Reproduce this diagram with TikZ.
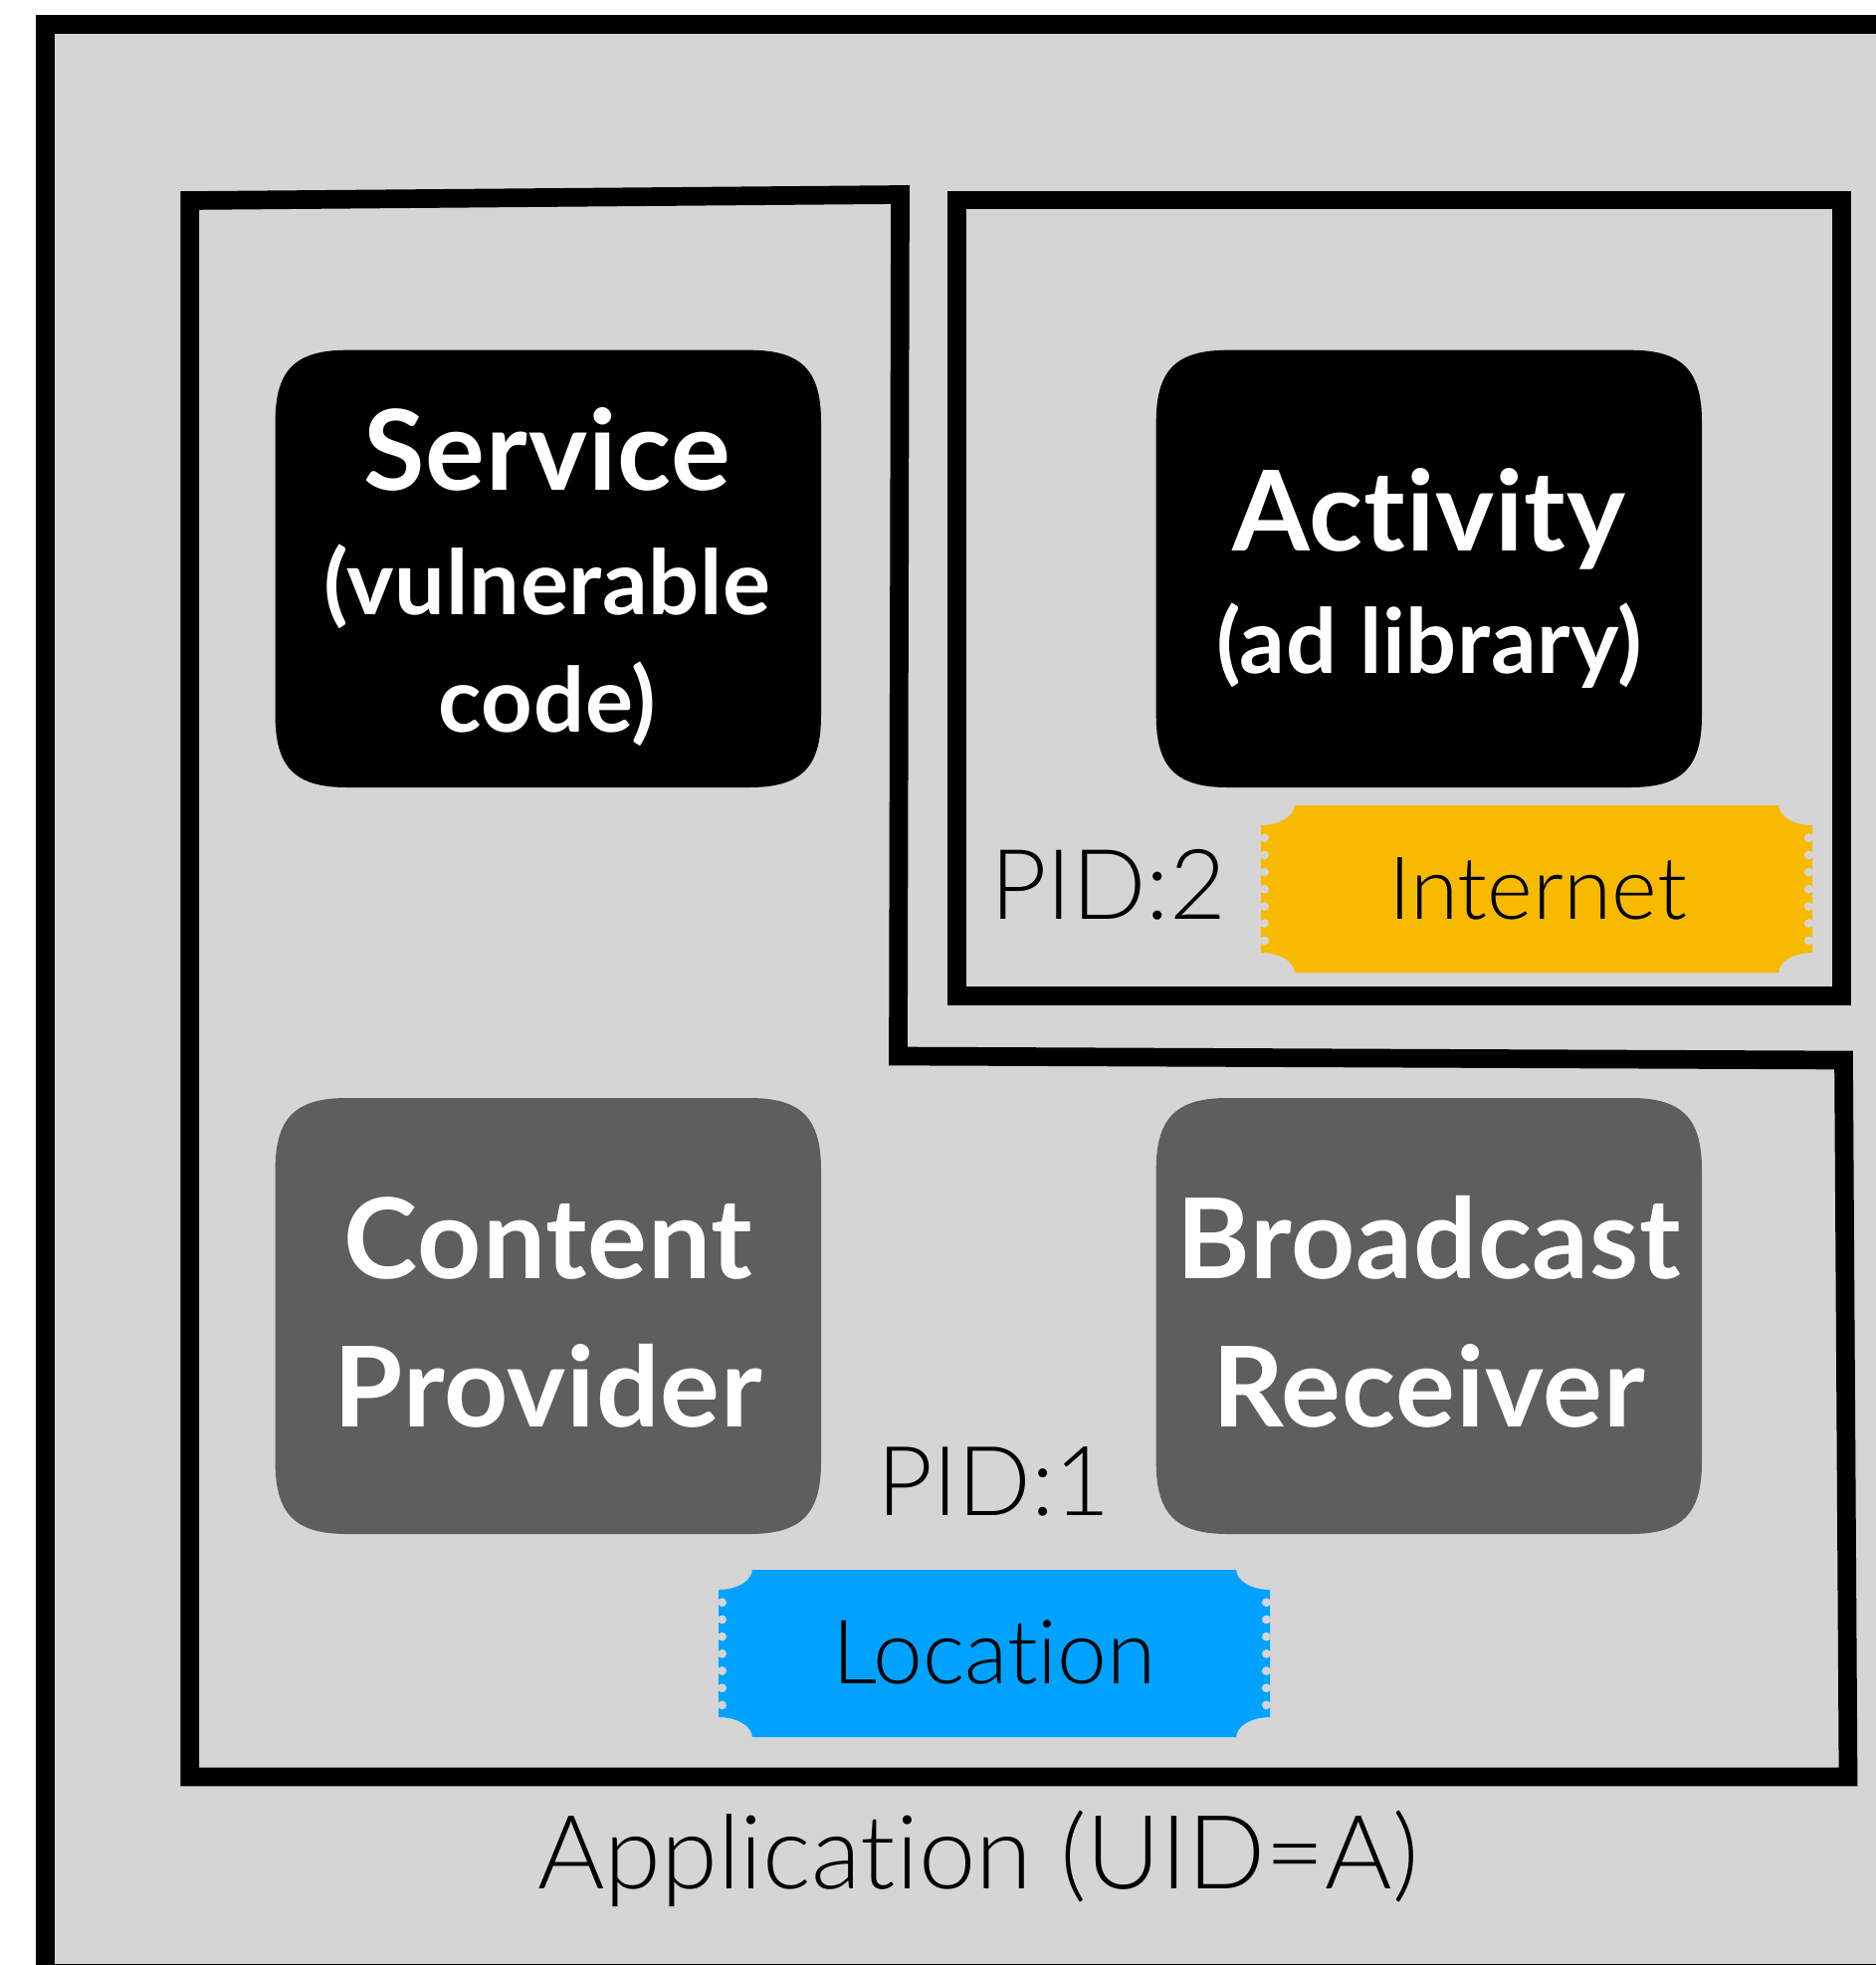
\documentclass[tikz,border=0pt]{standalone}
\usepackage{fontspec}
\setmainfont{Lato}
\newfontfamily\lightface[Ligatures={NoCommon}]{Lato Light}
\newfontfamily\boldface[Ligatures={NoCommon},LetterSpace=0.8]{Lato Bold}
\definecolor{panel}{HTML}{D5D5D5}
\definecolor{darkbox}{HTML}{5E5E5E}
\definecolor{ticketyellow}{HTML}{F8BA00}
\definecolor{ticketblue}{HTML}{00A2FF}
\newcommand{\bigline}{\fontsize{112}{100}\selectfont}
\newcommand{\smallline}{\fontsize{90}{100}\selectfont}
\tikzset{
  frameline/.style={draw=black,line width=18.7pt,miter limit=10},
  boxtitle/.style={text=white,align=center,inner sep=0pt,anchor=base,font=\boldface\fontsize{90}{100}\selectfont},
  thintext/.style={text=black,inner sep=0pt,anchor=base west,font=\lightface},
}
\newcommand{\SqBox}[5]{% x1 y1 x2 y2 colour
  \fill[#5] (#1,#2+72) .. controls (#1,#2+20) and (#1+20,#2) .. (#1+72,#2)
    -- (#3-72,#2) .. controls (#3-20,#2) and (#3,#2+20) .. (#3,#2+72)
    -- (#3,#4-72) .. controls (#3,#4-20) and (#3-20,#4) .. (#3-72,#4)
    -- (#1+72,#4) .. controls (#1+20,#4) and (#1,#4-20) .. (#1,#4-72) -- cycle;}
\newcommand{\Ticket}[3]{% x y colour
  \fill[#3] (#1+33.8,#2) -- (#1+520.2,#2)
    .. controls (#1+520.2,#2+11) and (#1+535.4,#2+20) .. (#1+554,#2+20)
    -- (#1+554,#2+148)
    .. controls (#1+535.4,#2+148) and (#1+520.2,#2+157) .. (#1+520.2,#2+168)
    -- (#1+33.8,#2+168)
    .. controls (#1+33.8,#2+157) and (#1+18.6,#2+148) .. (#1,#2+148)
    -- (#1,#2+20)
    .. controls (#1+18.6,#2+20) and (#1+33.8,#2+11) .. (#1+33.8,#2) -- cycle;
  \foreach \k in {0,...,6}{
    \fill[panel] (#1+3.6,#2+32.7+17.2*\k) circle[radius=4.4];
    \fill[panel] (#1+550.4,#2+32.7+17.2*\k) circle[radius=4.4];
  }}
\begin{document}
\begin{tikzpicture}[x=1pt,y=-1pt]
\useasboundingbox (0,0) rectangle (1885,1974);
\clip (0,0) rectangle (1885,1974);
% application frame
\fill[panel] (45.5,24.5) rectangle (1900,1982);
\draw[frameline] (1900,24.5) -- (45.5,24.5) -- (45.5,1982) -- (1900,1982);
% process 1 outline
\draw[frameline] (190.7,201.5) -- (904.5,195.5) -- (902.5,1061) -- (1852.5,1065) -- (1857,1785) -- (190.7,1785) -- cycle;
% process 2 outline
\draw[frameline] (961.3,201) rectangle (1850.5,1000.5);
% components
\SqBox{276.6}{351.7}{825}{791}{black}
\SqBox{1161.7}{351.7}{1710}{791}{black}
\SqBox{276.6}{1103}{825}{1541}{darkbox}
\SqBox{1161.7}{1103}{1710}{1541}{darkbox}
% permission tickets
\Ticket{1267}{809}{ticketyellow}
\Ticket{722}{1577}{ticketblue}
% labels
\node[boxtitle] (service) at (550,735.7) {\bigline Service\\[25pt]\smallline (vulnerable\\[18pt]\smallline code)};
\node[boxtitle] (activity) at (1436,676.5) {\bigline Activity\\[23pt]\smallline (ad library)};
\node[boxtitle] (content) at (551,1433) {\bigline Content\\[49pt]\bigline Provider};
\node[boxtitle] (broadcast) at (1436,1433) {\bigline Broadcast\\[49pt]\bigline Receiver};
\node[thintext] (pidtwo) at (995,923) {\fontsize{98}{120}\selectfont PID:2};
\node[thintext] (pidone) at (881,1522) {\fontsize{97}{120}\selectfont PID:1};
\node[thintext] (internet) at (1395,923.7) {\fontsize{87.5}{100}\selectfont Internet};
\node[thintext] (location) at (836,1691) {\fontsize{89.5}{100}\selectfont Location};
\node[thintext] (application) at (540,1897) {\fontsize{103}{120}\selectfont Application (UID=A)};
\end{tikzpicture}
\end{document}
